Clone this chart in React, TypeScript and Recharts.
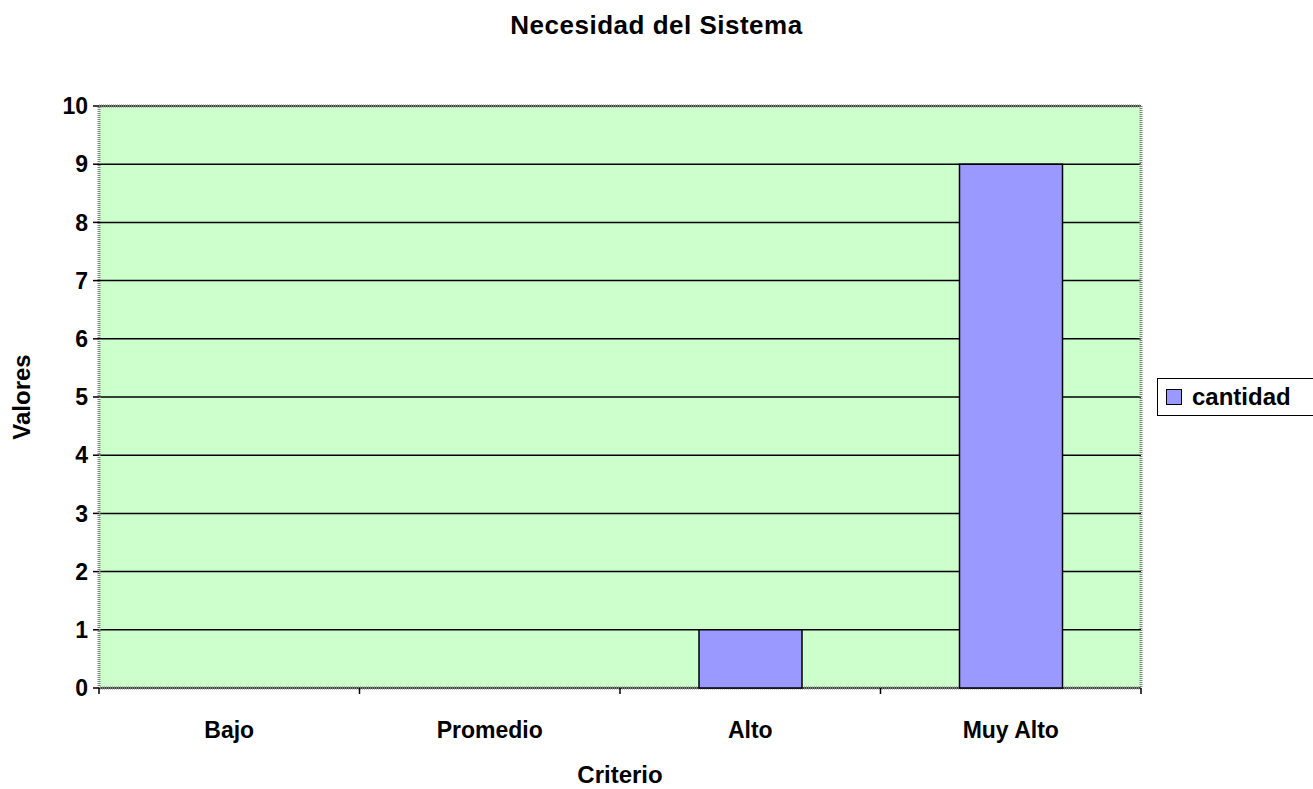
import React from 'react';
import { BarChart, Bar, XAxis, YAxis, CartesianGrid, Legend, ReferenceArea } from 'recharts';

// datos del gráfico
const criterios = ['Bajo', 'Promedio', 'Alto', 'Muy Alto'];
const cantidad = [0, 0, 1, 9];
const ticksValores = [0, 1, 2, 3, 4, 5, 6, 7, 8, 9, 10];

const data = criterios.map((c, i) => ({ criterio: c, cantidad: cantidad[i] }));

const FUENTE = '"Liberation Sans", Arial, sans-serif';
const ANCHO_BANDA = (1141 - 99) / criterios.length;

// tick del eje X con marcas en los límites de cada categoría (estilo Excel)
const TickCriterio = (props: any) => {
  const { x, y, payload, index } = props;
  const izq = x - ANCHO_BANDA / 2;
  return (
    <g>
      <line x1={izq} y1={y - 8} x2={izq} y2={y - 2} stroke="#000" strokeWidth={1.5} />
      {index === criterios.length - 1 && (
        <line x1={x + ANCHO_BANDA / 2} y1={y - 8} x2={x + ANCHO_BANDA / 2} y2={y - 2} stroke="#000" strokeWidth={1.5} />
      )}
      <text x={x} y={y + 42} textAnchor="middle" fontFamily={FUENTE} fontWeight="bold" fontSize={23} fill="#000">
        {payload.value}
      </text>
    </g>
  );
};

const Leyenda = () => (
  <div
    style={{
      border: '1.5px solid #000',
      background: '#fff',
      width: 160,
      height: 38,
      boxSizing: 'border-box',
      display: 'flex',
      alignItems: 'center',
      fontFamily: FUENTE,
      fontWeight: 'bold',
      fontSize: 24,
    }}
  >
    <span
      style={{
        display: 'inline-block',
        width: 14,
        height: 14,
        background: '#9999FF',
        border: '1.5px solid #000',
        marginLeft: 8,
        marginRight: 10,
      }}
    />
    cantidad
  </div>
);

export default function App() {
  return (
    <div style={{ position: 'absolute', left: 0, top: 0, width: 1313, height: 789, background: '#fff' }}>
      <div
        style={{
          position: 'absolute',
          top: 12,
          left: 0,
          width: 1313,
          textAlign: 'center',
          fontFamily: FUENTE,
          fontWeight: 'bold',
          fontSize: 26,
          lineHeight: '26px',
          letterSpacing: 0.5,
        }}
      >
        Necesidad del Sistema
      </div>
      <div
        style={{
          position: 'absolute',
          left: 22,
          top: 397,
          transform: 'translate(-50%, -50%) rotate(-90deg)',
          fontFamily: FUENTE,
          fontWeight: 'bold',
          fontSize: 24,
          whiteSpace: 'nowrap',
        }}
      >
        Valores
      </div>
      <BarChart
        width={1313}
        height={789}
        data={data}
        margin={{ top: 106, right: 12, left: 0, bottom: 0 }}
        barSize={103}
      >
        <CartesianGrid vertical={false} stroke="#000" strokeWidth={1.5} fill="#CCFFCC" />
        <XAxis
          dataKey="criterio"
          height={101}
          axisLine={false}
          tickLine={false}
          tickSize={6}
          tickMargin={2}
          interval={0}
          tick={<TickCriterio />}
          label={{
            value: 'Criterio',
            position: 'insideBottom',
            offset: 6,
            style: { fontFamily: FUENTE, fontWeight: 'bold', fontSize: 24, fill: '#000' },
          }}
        />
        <YAxis
          width={99}
          domain={[0, 10]}
          ticks={ticksValores}
          interval={0}
          axisLine={false}
          tickLine={{ stroke: '#000', strokeWidth: 1.5 }}
          tickSize={6}
          tickMargin={5}
          tick={{ fontFamily: FUENTE, fontWeight: 'bold', fontSize: 23, fill: '#000' }}
        />
        <ReferenceArea y1={0} y2={10} fill="none" stroke="#808080" strokeWidth={3} strokeDasharray="1 1" />
        <Legend
          layout="vertical"
          align="right"
          verticalAlign="middle"
          content={<Leyenda />}
          wrapperStyle={{ position: 'absolute', left: 1157, top: 378, width: 160 }}
        />
        <Bar dataKey="cantidad" name="cantidad" fill="#9999FF" stroke="#000" strokeWidth={1.5} isAnimationActive={false} />
      </BarChart>
    </div>
  );
}
